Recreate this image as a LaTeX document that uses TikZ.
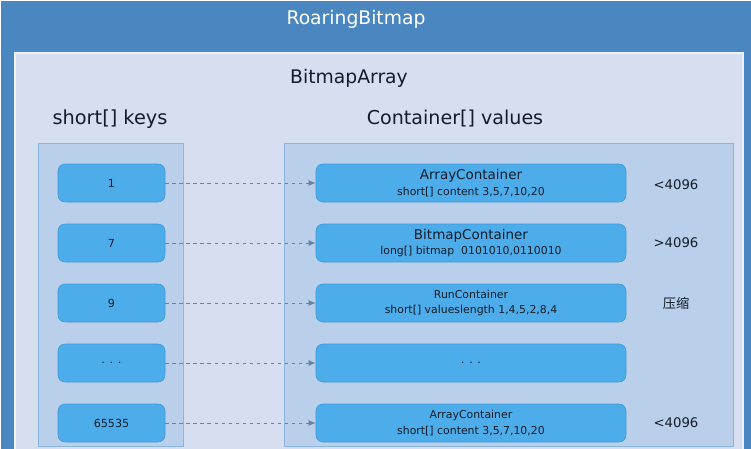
\documentclass[tikz,border=0pt]{standalone}
\usepackage{fontspec}
\setmainfont{DejaVu Sans}
\newfontfamily\cjk{Noto Sans CJK SC}
\usepackage{tikz}
\usetikzlibrary{arrows.meta}

\definecolor{roaringblue}{RGB}{74,134,192}
\definecolor{arraybg}{RGB}{213,223,240}
\definecolor{arrayedge}{RGB}{236,241,250}
\definecolor{colbg}{RGB}{186,208,234}
\definecolor{coledge}{RGB}{140,180,225}
\definecolor{cellfill}{RGB}{77,172,234}
\definecolor{celledge}{RGB}{64,152,214}
\definecolor{linkgrey}{RGB}{100,133,168}
\definecolor{textdark}{RGB}{20,28,40}

\begin{document}
\begin{tikzpicture}[x=0.03cm,y=-0.03cm,
  cell/.style={draw=celledge,fill=cellfill,rounded corners=6,line width=0.5pt,
    text=textdark,align=center,inner sep=0pt},
  keycell/.style={cell,minimum width=107*0.03cm,minimum height=38*0.03cm,font=\fontsize{9.5}{11}\selectfont},
  valcell/.style={cell,minimum width=310*0.03cm,minimum height=38*0.03cm,font=\fontsize{9.3}{13.5}\selectfont},
  link/.style={draw=linkgrey,dashed,line width=0.6pt,-{Latex[length=6pt,width=5pt]}},
  side/.style={text=textdark,font=\fontsize{11.3}{13}\selectfont}]
\useasboundingbox (0,0) rectangle (751,449);
% RoaringBitmap
\fill[roaringblue] (1,1) rectangle (751,449);
\node[text=white,font=\fontsize{16}{19}\selectfont] (roaring) at (356,19) {RoaringBitmap};
% BitmapArray
\filldraw[fill=arraybg,draw=arrayedge,line width=1pt] (15,53) rectangle (743,452);
\node[text=textdark,font=\fontsize{16}{19}\selectfont] (bitmaparray) at (349,78) {BitmapArray};
\node[text=textdark,font=\fontsize{16.5}{19}\selectfont] (keyshead) at (110,119) {short[] keys};
\node[text=textdark,font=\fontsize{16.3}{19}\selectfont] (valshead) at (455,119) {Container[] values};
% columns
\filldraw[fill=colbg,draw=coledge,line width=0.6pt] (38,143) rectangle (183,446);
\filldraw[fill=colbg,draw=coledge,line width=0.6pt] (284,143) rectangle (733,446);

% keys
\node[keycell] (k1) at (111.5,183) {1};
\node[keycell] (k2) at (111.5,243) {7};
\node[keycell] (k3) at (111.5,303) {9};
\node[keycell] (k4) at (111.5,363) {. . .};
\node[keycell] (k5) at (111.5,423) {65535};

% values
\node[valcell] (v1) at (471,183) {{\fontsize{11.5}{13.5}\selectfont ArrayContainer}\\short[] content 3,5,7,10,20};
\node[valcell] (v2) at (471,243) {{\fontsize{11.5}{13.5}\selectfont BitmapContainer}\\long[] bitmap~~0101010,0110010};
\node[valcell] (v3) at (471,303) {RunContainer\\short[] valueslength 1,4,5,2,8,4};
\node[valcell] (v4) at (471,363) {. . .};
\node[valcell] (v5) at (471,423) {ArrayContainer\\short[] content 3,5,7,10,20};

% links
\draw[link] (k1) -- (v1);
\draw[link] (k2) -- (v2);
\draw[link] (k3) -- (v3);
\draw[link] (k4) -- (v4);
\draw[link] (k5) -- (v5);

% notes
\node[side] (n1) at (676,185) {<4096};
\node[side] (n2) at (676,243) {>4096};
\node[side] (n3) at (676,303) {\cjk 压缩};
\node[side] (n5) at (676,423) {<4096};
\end{tikzpicture}
\end{document}
